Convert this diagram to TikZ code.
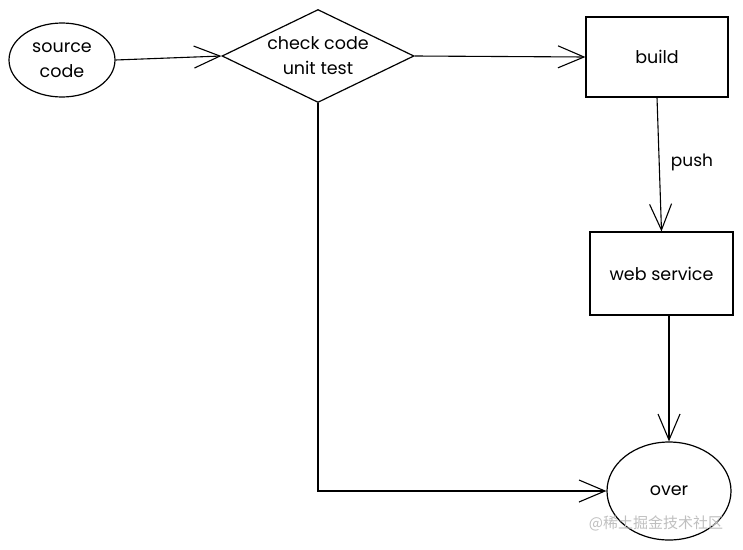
\documentclass[tikz,border=0pt]{standalone}
\usepackage{fontspec}
\setmainfont{Poppins}
\newfontfamily\cjkfont{Noto Sans CJK SC}
\usetikzlibrary{shapes.geometric,arrows.meta,calc}
\tikzset{
  shp/.style={draw=black, line width=1.2pt, inner sep=0pt, align=center, font=\fontsize{17.5}{25}\selectfont},
  ell/.style={shp, ellipse},
  dia/.style={shp, diamond, aspect=2.06},
  box/.style={shp, rectangle},
  arr/.style={line width=1.1pt, -{Straight Barb[length=26pt,width=22pt,line width=1.1pt]}},
  lbl/.style={font=\fontsize{17}{20}\selectfont, inner sep=0pt}
}
\begin{document}
\begin{tikzpicture}[x=1pt,y=-1pt]
\useasboundingbox (0,0) rectangle (743,549);
\node[ell, minimum width=106pt, minimum height=74pt] (src) at (62,60) {source\\code};
\node[dia, minimum width=192pt, minimum height=93pt] (chk) at (318,56) {check code\\unit test};
\node[box, minimum width=142pt, minimum height=80pt] (build) at (657,57) {build};
\node[box, minimum width=143pt, minimum height=83pt] (web) at (661.5,273.5) {web service};
\node[ell, minimum width=124pt, minimum height=98pt] (over) at (669,491) {over};
\node[lbl] (push) at (692,162) {push};
\draw[arr] (src.east) -- (chk.west);
\draw[arr] (chk.east) -- (build.west);
\draw[arr] (build.south) -- (web.north);
\draw[arr] (web.south -| over.north) -- (over.north);
\draw[arr] (chk.south) |- (over.west);
\node[text=black!25, font=\cjkfont\fontsize{15}{15}\selectfont, inner sep=0pt] (wm) at (656,523) {@稀土掘金技术社区};
\end{tikzpicture}
\end{document}
